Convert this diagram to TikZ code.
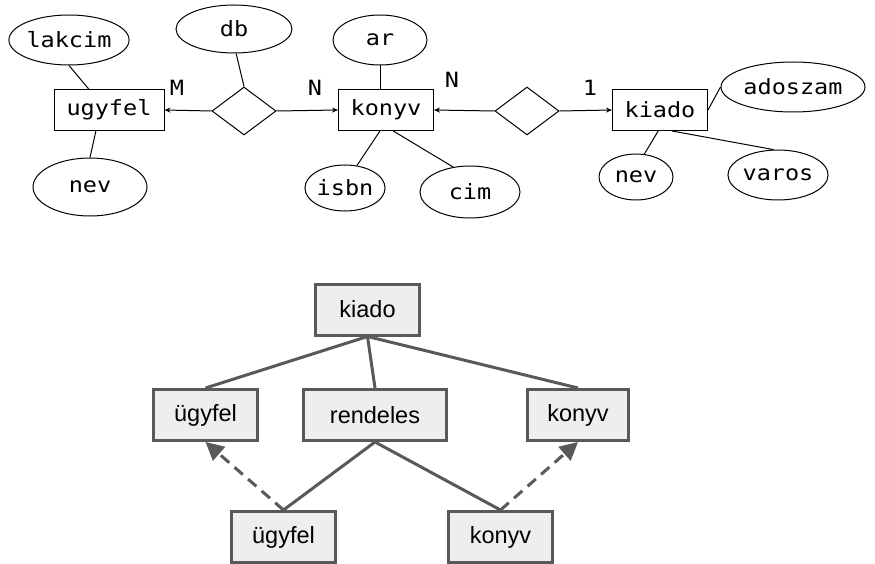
\documentclass[tikz,border=0pt]{standalone}
\usepackage{fontspec}
\setmainfont{Liberation Sans}
\newfontfamily\ermono[FakeStretch=1.12]{DejaVu Sans Mono}
\usetikzlibrary{shapes.geometric,arrows.meta}
\definecolor{tabgray}{HTML}{595959}
\definecolor{tabfill}{HTML}{EEEEEE}
\tikzset{
  er/.style={font={\ermono\fontsize{21}{24}\selectfont},text=black},
  attr/.style={er,ellipse,draw,line width=1pt,inner sep=0pt},
  ent/.style={er,rectangle,draw,line width=1pt,minimum height=41pt,inner sep=0pt},
  rel/.style={diamond,draw,line width=1pt,minimum width=64pt,minimum height=48pt,inner sep=0pt},
  erline/.style={line width=1pt},
  erarrow/.style={erline,-{Stealth[length=6pt,width=5pt]}},
  tab/.style={draw=tabgray,fill=tabfill,line width=3pt,minimum height=51pt,inner sep=0pt,
    font={\fontsize{23.5}{26}\selectfont}},
  tabline/.style={draw=tabgray,line width=3pt},
  tabref/.style={tabline,dash pattern=on 11pt off 7pt,-{Triangle[length=18pt,width=18pt]}}
}
\newcommand{\attrnode}[6]{\node[attr,minimum width=#3pt,minimum height=#4pt] (#5) at (#1,#2) {#6};}
\newcommand{\entnode}[4]{\node[ent,minimum width=#3pt] (#4) at (#1,#2) {#4};}
\newcommand{\relnode}[3]{\node[rel] (#3) at (#1,#2) {};}
\newcommand{\cardnode}[4]{\node[er] (#3) at (#1,#2) {#4};}
\newcommand{\tabnode}[5]{\node[tab,minimum width=#3pt] (#4) at (#1,#2) {#5};}

\begin{document}
\begin{tikzpicture}[x=1pt,y=-1pt]
  \useasboundingbox (0,0) rectangle (875,564);
  % E-R diagram
  \entnode{109}{110}{110}{ugyfel} \entnode{386}{110}{95}{konyv} \entnode{660}{110}{95}{kiado}
  \relnode{244}{111}{rendel} \relnode{527}{111}{kiad}
  \attrnode{69}{40}{108}{50}{lakcim}{lakcim} \attrnode{90}{187}{114}{58}{nevu}{nev}
  \attrnode{234}{29}{116}{48}{db}{db} \attrnode{380}{40}{94}{50}{ar}{ar}
  \attrnode{345}{188}{76}{46}{isbn}{isbn} \attrnode{470}{192}{100}{52}{cim}{cim}
  \attrnode{793}{87}{144}{50}{adoszam}{adoszam}
  \attrnode{636}{177}{74}{46}{nevk}{nev} \attrnode{778}{175}{100}{50}{varos}{varos}
  \cardnode{177}{88}{cardM}{M} \cardnode{315}{88}{cardN}{N}
  \cardnode{452}{80}{cardNk}{N} \cardnode{590}{88}{card1}{1}
  \draw[erarrow] (rendel.west) -- (ugyfel.east);
  \draw[erarrow] (rendel.east) -- (konyv.west);
  \draw[erarrow] (kiad.west) -- (konyv.east);
  \draw[erarrow] (kiad.east) -- (kiado.west);
  \draw[erline] (lakcim.south) -- (ugyfel.134);
  \draw[erline] (ugyfel.-122) -- (nevu.north);
  \draw[erline] (db.-85) -- (rendel.north);
  \draw[erline] (ar.south) -- (ar.south |- konyv.north);
  \draw[erline] (konyv.-106) -- (isbn.62);
  \draw[erline] (konyv.-71) -- (cim.124);
  \draw[erline] (kiado.east) -- (adoszam.west);
  \draw[erline] (kiado.-95) -- (nevk.70);
  \draw[erline] (kiado.-60) -- (varos.100);
  % tables
  \tabnode{367.5}{309.5}{104}{tkiado}{kiado}
  \tabnode{205.5}{415}{104}{tugyfel}{ügyfel}
  \tabnode{375}{415}{143}{trendeles}{rendeles}
  \tabnode{578}{415}{101}{tkonyv}{konyv}
  \tabnode{283.5}{537}{104}{bugyfel}{ügyfel}
  \tabnode{500.5}{537}{104}{bkonyv}{konyv}
  \draw[tabline] (tkiado.south) -- (tugyfel.north);
  \draw[tabline] (tkiado.south) -- (trendeles.north);
  \draw[tabline] (tkiado.south) -- (tkonyv.north);
  \draw[tabline] (trendeles.south) -- (bugyfel.north);
  \draw[tabline] (trendeles.south) -- (bkonyv.north);
  \draw[tabref] (bugyfel.north) -- (tugyfel.south);
  \draw[tabref] (bkonyv.north) -- (tkonyv.south);
\end{tikzpicture}
\end{document}
